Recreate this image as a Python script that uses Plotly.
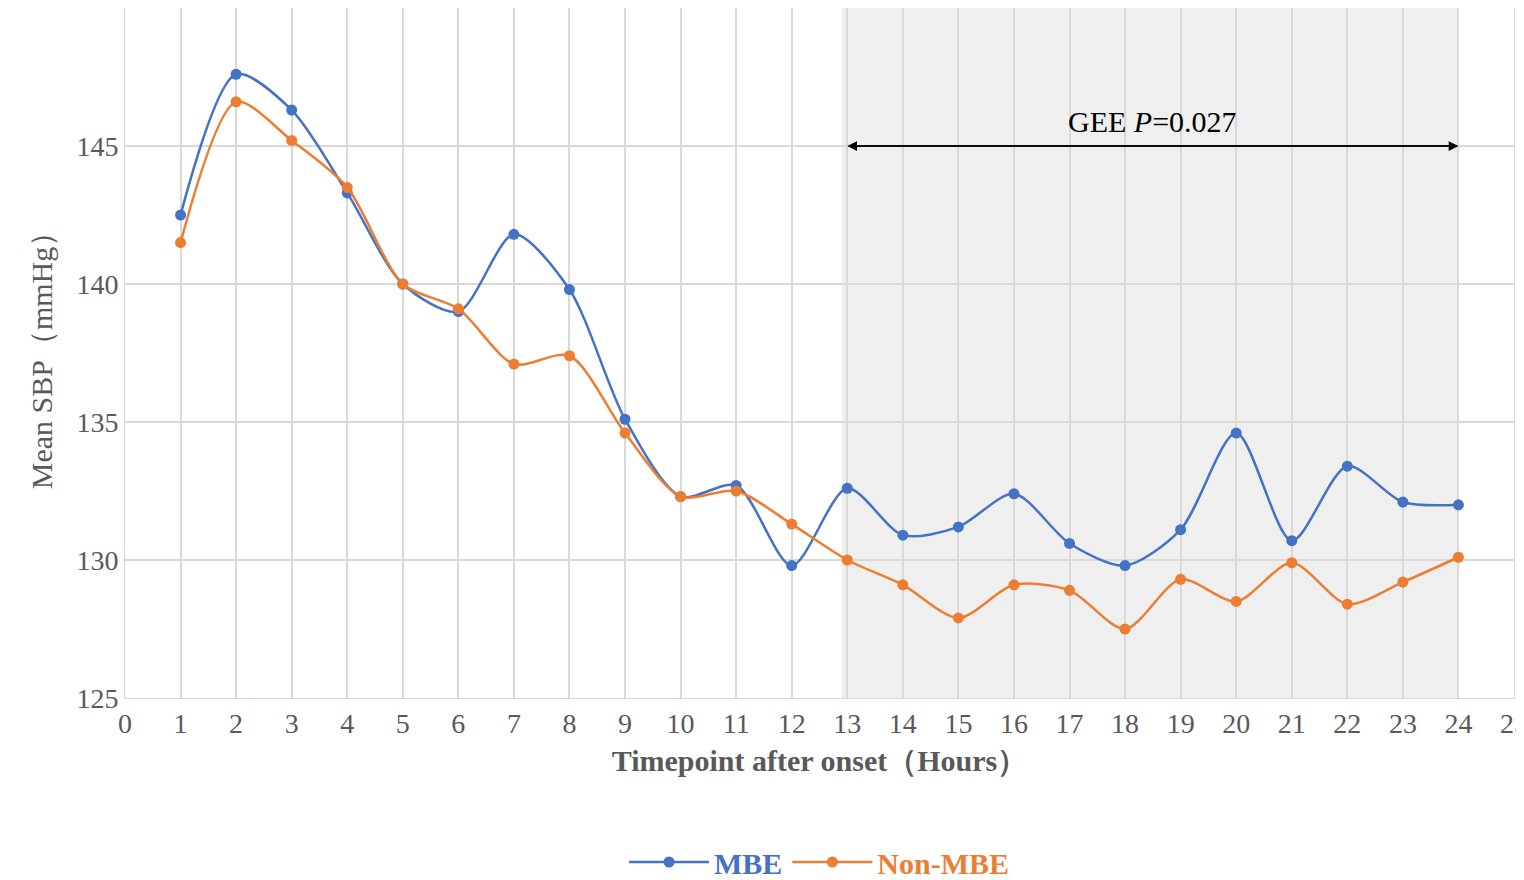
import plotly.graph_objects as go

hours = list(range(1, 25))
mbe = [142.5, 147.6, 146.3, 143.3, 140.0, 139.0, 141.8, 139.8, 135.1, 132.3, 132.7, 129.8,
       132.6, 130.9, 131.2, 132.4, 130.6, 129.8, 131.1, 134.6, 130.7, 133.4, 132.1, 132.0]
non_mbe = [141.5, 146.6, 145.2, 143.5, 140.0, 139.1, 137.1, 137.4, 134.6, 132.3, 132.5, 131.3,
           130.0, 129.1, 127.9, 129.1, 128.9, 127.5, 129.3, 128.5, 129.9, 128.4, 129.2, 130.1]

font = "Liberation Serif, Times New Roman, serif"
grey = "#595959"
blue = "#4472c4"
orange = "#ed7d31"

fig = go.Figure()

# shaded window 13-24 h
fig.add_shape(type="rect", x0=12.9, x1=24, y0=125, y1=150, xref="x", yref="y",
              fillcolor="#efefef", line=dict(width=0), layer="below")

fig.add_trace(go.Scatter(x=hours, y=mbe, mode="lines+markers",
                         name=f"<b><span style='color:{blue}'>MBE</span></b>",
                         line=dict(color=blue, width=2.5, shape="spline", smoothing=0.8),
                         marker=dict(size=11)))
fig.add_trace(go.Scatter(x=hours, y=non_mbe, mode="lines+markers",
                         name=f"<b><span style='color:{orange}'>Non-MBE</span></b>",
                         line=dict(color=orange, width=2.5, shape="spline", smoothing=0.8),
                         marker=dict(size=11)))

# double-headed arrow
for x_from, x_to in [(13, 24), (24, 13)]:
    fig.add_annotation(x=x_to, y=145, ax=x_from, ay=145, xref="x", yref="y", axref="x", ayref="y",
                       text="", showarrow=True, arrowhead=2, arrowsize=1.3, arrowwidth=1.5,
                       arrowcolor="black")
fig.add_annotation(x=18.5, y=145.2, text="GEE <i>P</i>=0.027", showarrow=False, yanchor="bottom",
                   font=dict(family=font, size=30, color="black"))

fig.update_layout(
    width=1524, height=880,
    margin=dict(l=117, r=18, t=0, b=130),
    plot_bgcolor="white", paper_bgcolor="white",
    font=dict(family=font, size=28, color=grey),
    xaxis=dict(range=[0, 25], dtick=1, showgrid=True, gridcolor="#d9d9d9", gridwidth=1.5,
               zeroline=False, showline=True, linecolor="#d9d9d9", mirror=True,
               ticks="", ticklen=0,
               title=dict(text="<b>Timepoint after onset（Hours）</b>", standoff=12,
                          font=dict(size=30, color=grey))),
    yaxis=dict(range=[125, 150], dtick=5, showgrid=True, gridcolor="#d9d9d9", gridwidth=1.5,
               zeroline=False, showline=True, linecolor="#d9d9d9", mirror=True,
               title=dict(text="Mean SBP（mmHg）", standoff=14, font=dict(size=30, color=grey))),
    legend=dict(orientation="h", x=0.5, y=-0.2, xanchor="center", yanchor="top",
                font=dict(size=30), itemwidth=80),
    showlegend=True,
)

fig.write_html("out.html")
